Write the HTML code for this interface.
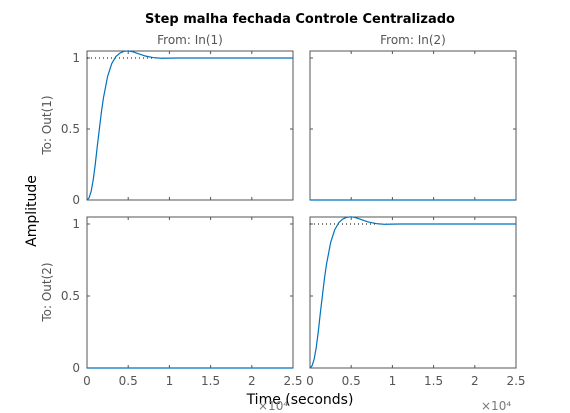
<!DOCTYPE html>
<html><head><meta charset="utf-8"><style>
html,body{margin:0;padding:0;background:#fff;}
svg{display:block;font-family:"DejaVu Sans","Liberation Sans",sans-serif;}
</style></head><body>
<svg id="chart" width="570" height="413" viewBox="0 0 570 413">
<rect width="570" height="413" fill="#fff"/>
<text x="300" y="23" text-anchor="middle" font-size="13" font-weight="bold" fill="#000">Step malha fechada Controle Centralizado</text>
<text x="190" y="44" text-anchor="middle" font-size="12" fill="#555">From: In(1)</text>
<text x="413" y="44" text-anchor="middle" font-size="12" fill="#555">From: In(2)</text>
<text transform="translate(36,211) rotate(-90)" text-anchor="middle" font-size="14" fill="#000">Amplitude</text>
<text transform="translate(51,125) rotate(-90)" text-anchor="middle" font-size="12" fill="#555">To: Out(1)</text>
<text transform="translate(51,292) rotate(-90)" text-anchor="middle" font-size="12" fill="#555">To: Out(2)</text>
<text x="300" y="404" text-anchor="middle" font-size="14" fill="#000">Time (seconds)</text>
<text x="258" y="410" font-size="12" fill="#777">×10⁴</text>
<text x="481" y="410" font-size="12" fill="#777">×10⁴</text>
<g id="panels"></g>
</svg>
<script>
const times = [0,250,500,750,1000,1250,1500,1750,2000,2500,3000,3500,4000,4500,5000,5500,6000,7000,8000,9000,10000,11000,25000];
const diagValues = [0,0.015,0.06,0.14,0.25,0.38,0.5,0.62,0.72,0.87,0.96,1.01,1.035,1.047,1.05,1.045,1.035,1.015,1.003,0.998,0.999,1,1];
const offDiagValues = [0,0,0,0,0,0,0,0,0,0,0,0,0,0,0,0,0,0,0,0,0,0,0];
const xTicks = [0,5000,10000,15000,20000,25000];
const xTickLabels = ["0","0.5","1","1.5","2","2.5"];
const yTicks = [0,0.5,1];
const yTickLabels = ["0","0.5","1"];
const steadyState = 1;

const NS = "http://www.w3.org/2000/svg";
const g = document.getElementById("panels");
function mk(tag, attrs, parent){const e=document.createElementNS(NS,tag);for(const k in attrs)e.setAttribute(k,attrs[k]);(parent||g).appendChild(e);return e;}

const panels = [
 {x0:87,x1:293,top:51,y0:200,y1:58,vals:diagValues,ref:true,name:"out1-in1",xl:false,yl:true},
 {x0:310,x1:516,top:51,y0:200,y1:58,vals:offDiagValues,ref:false,name:"out1-in2",xl:false,yl:false},
 {x0:87,x1:293,top:217,y0:368,y1:224,vals:offDiagValues,ref:false,name:"out2-in1",xl:true,yl:true},
 {x0:310,x1:516,top:217,y0:368,y1:224,vals:diagValues,ref:true,name:"out2-in2",xl:true,yl:false}
];
panels.forEach(p=>{
  const xs = t => p.x0 + t/25000*(p.x1-p.x0);
  const ys = v => p.y0 + v*(p.y1-p.y0);
  const grp = mk("g",{});
  
  
  const box = mk("rect",{x:p.x0,y:p.top,width:p.x1-p.x0,height:p.y0-p.top,fill:"#fff",stroke:"#555","stroke-width":1},grp);
  
  
  xTicks.forEach((t,i)=>{
    const x=xs(t);
    mk("line",{x1:x,x2:x,y1:p.y0,y2:p.y0-3,stroke:"#555"},grp);
    mk("line",{x1:x,x2:x,y1:p.top,y2:p.top+3,stroke:"#555"},grp);
    if(p.xl){const tx=mk("text",{x:x,y:p.y0+17,"text-anchor":"middle","font-size":12,fill:"#555"},grp);tx.textContent=xTickLabels[i];
      
      }
  });
  yTicks.forEach((v,i)=>{
    const y=ys(v);
    mk("line",{x1:p.x0,x2:p.x0+3,y1:y,y2:y,stroke:"#555"},grp);
    mk("line",{x1:p.x1,x2:p.x1-3,y1:y,y2:y,stroke:"#555"},grp);
    if(p.yl){const tx=mk("text",{x:p.x0-7,y:y+4,"text-anchor":"end","font-size":12,fill:"#555"},grp);tx.textContent=yTickLabels[i];
      
      }
  });
  if(p.ref){
    const rl=mk("line",{x1:p.x0,x2:p.x1,y1:ys(steadyState),y2:ys(steadyState),stroke:"#000","stroke-dasharray":"1,3","stroke-width":1},grp);
    
    
  }
  const d = times.map((t,i)=>(i?"L":"M")+xs(t).toFixed(2)+","+ys(p.vals[i]).toFixed(2)).join(" ");
  const ln = mk("path",{d:d,fill:"none",stroke:"#0072BD","stroke-width":1.2,"stroke-linejoin":"round"},grp);
  
  
});
</script>
</body></html>
